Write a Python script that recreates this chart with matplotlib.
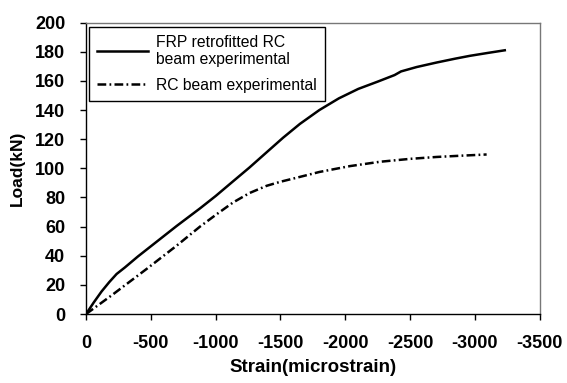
import numpy as np
from matplotlib import pyplot as plt

plt.rcParams['font.family'] = ['Liberation Sans', 'DejaVu Sans']

# ---------- DATA ------------------------------------------------------------
frp_strain = [0, -60, -120, -180, -236, -300, -400, -500, -700, -879, -1000,
              -1133, -1260, -1393, -1520, -1650, -1800, -1950, -2100, -2250,
              -2380, -2430, -2550, -2704, -2850, -2961, -3100, -3230]
frp_load = [0, 8, 15.5, 22, 27.5, 32, 39.5, 46.5, 60.5, 72.5, 81,
            91, 100.5, 111, 121, 130.5, 140, 148, 154.5, 159.5,
            164, 166.5, 169.5, 172.6, 175.3, 177.2, 179.2, 181]

rc_strain = [0, -200, -468, -700, -879, -1000, -1133, -1260, -1393, -1500,
             -1600, -1800, -2034, -2267, -2500, -2704, -2900, -3090]
rc_load = [0, 13, 31, 47, 60, 68, 76.5, 83, 88, 90.8,
           93, 97.5, 101.5, 104.5, 106.5, 107.8, 108.7, 109.5]

xticks = [0, -500, -1000, -1500, -2000, -2500, -3000, -3500]
yticks = [0, 20, 40, 60, 80, 100, 120, 140, 160, 180, 200]

# ---------- PLOT ------------------------------------------------------------
fig = plt.figure(figsize=(5.67, 3.83), dpi=100)
ax = fig.add_axes([0.1517, 0.180, 0.8003, 0.761])

ax.plot(frp_strain, frp_load, color='black', lw=1.8,
        label='FRP retrofitted RC\nbeam experimental')
ax.plot(rc_strain, rc_load, color='black', lw=1.8,
        linestyle=(0, (3.5, 1.3, 0.7, 1.3)), label='RC beam experimental')

ax.set_xlim(0, -3500)
ax.set_ylim(0, 200)
ax.set_xticks(xticks)
ax.set_yticks(yticks)
ax.set_xticklabels([str(v) for v in xticks], fontweight='bold', fontsize=13)
ax.set_yticklabels([str(v) for v in yticks], fontweight='bold', fontsize=13)
ax.tick_params(axis='x', direction='out', length=4, width=1, pad=11)
ax.tick_params(axis='y', direction='out', length=4, width=1, pad=11)
ax.tick_params(top=False, right=False)

for side in ['left', 'bottom']:
    ax.spines[side].set_color('black')
    ax.spines[side].set_linewidth(1)
for side in ['top', 'right']:
    ax.spines[side].set_color('#777777')
    ax.spines[side].set_linewidth(1)

ax.set_xlabel('Strain(microstrain)', fontweight='bold', fontsize=13.5,
              labelpad=5)
ax.set_ylabel('Load(kN)', fontweight='bold', fontsize=12.5, labelpad=7)

leg = ax.legend(loc='upper left', bbox_to_anchor=(0.006, 0.986),
                fontsize=11.3, handlelength=3.25, fancybox=False,
                edgecolor='black', framealpha=1, borderpad=0.5,
                labelspacing=0.7, borderaxespad=0, handletextpad=0.55)
leg.get_frame().set_linewidth(1)

fig.savefig('out.png', dpi=100)
